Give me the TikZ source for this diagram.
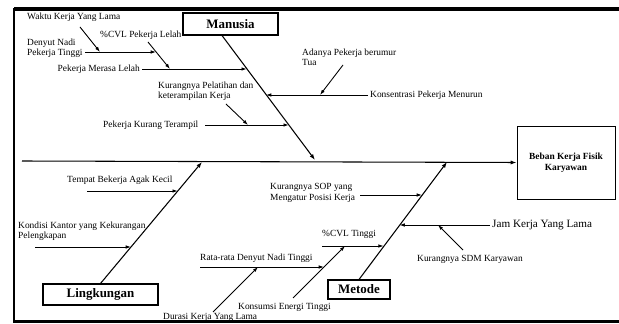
\documentclass[tikz,border=0pt]{standalone}
\usepackage{fontspec}
\setmainfont{Liberation Serif}
\usetikzlibrary{arrows.meta}
\begin{document}
\begin{tikzpicture}
	[x=0.85pt,y=-0.85pt,
	 arr/.style={-{Latex[length=4.5pt,width=3pt]},line width=0.75pt},
	 spine/.style={-{Latex[length=5pt,width=3.5pt]},line width=0.9pt},
	 cause/.style={draw,line width=0.9pt,inner sep=0pt,font=\fontsize{11}{12}\selectfont\bfseries},
	 lbl/.style={inner sep=0pt,align=left,font=\fontsize{8}{8.7}\selectfont}]
	\useasboundingbox (0,0) rectangle (619,324);
	\draw[line width=2.6pt] (14,9) -- (619,9);
	\draw[line width=2pt] (14,8) -- (14,321.5) -- (619,321.5);

	\node[cause,minimum width=95*0.85pt,minimum height=22*0.85pt] (manusia) at (230.5,24) {Manusia};
	\node[cause,minimum width=115*0.85pt,minimum height=21*0.85pt] (lingkungan) at (100.5,294.5) {Lingkungan};
	\node[cause,minimum width=62*0.85pt,minimum height=19*0.85pt] (metode) at (359,289.5) {Metode};
	\node[draw,line width=0.8pt,align=center,minimum width=98*0.85pt,minimum height=73*0.85pt,
		font=\fontsize{8}{9.5}\selectfont\bfseries] (effect) at (566,162.5) {Beban Kerja Fisik\\Karyawan};

	\coordinate (tail) at (22,161);
	\draw[spine] (tail) -- (effect.west);

	% Manusia
	\coordinate (mtop) at (222,35.5);
	\coordinate (mhead) at (315,160);
	\draw[spine] (mtop) -- (mhead);
	\node[lbl,anchor=west] (waktu) at (27,17) {Waktu Kerja Yang Lama};
	\node[lbl,anchor=west] (cvlm) at (100,35) {\%CVL Pekerja Lelah};
	\node[lbl,anchor=west] (denyut) at (27,48) {Denyut Nadi\\Pekerja Tinggi};
	\node[lbl,anchor=east] (lelah) at (140,69) {Pekerja Merasa Lelah};
	\node[lbl,anchor=west] (latih) at (158,91) {Kurangnya Pelatihan dan\\keterampilan Kerja};
	\node[lbl,anchor=west] (terampil) at (103,125) {Pekerja Kurang Terampil};
	\node[lbl,anchor=west] (umur) at (302,57) {Adanya Pekerja berumur\\Tua};
	\node[lbl,anchor=west] (konsen) at (370,95) {Konsentrasi Pekerja Menurun};

	\coordinate (a1) at (142,69);  \coordinate (b1) at (246.8,69);
	\coordinate (a2) at (148,42);  \coordinate (b2) at (170,69);
	\coordinate (a3) at (85,52);   \coordinate (b3) at (156,52);
	\coordinate (a4) at (80,27);   \coordinate (b4) at (100,52);
	\coordinate (a5) at (226,104); \coordinate (b5) at (248,125);
	\coordinate (a6) at (205,125); \coordinate (b6) at (288.8,125);
	\coordinate (a7) at (368,95);  \coordinate (b7) at (266,95);
	\coordinate (a8) at (343,65);  \coordinate (b8) at (320,95);
	\draw[arr] (a1) -- (b1);
	\draw[arr] (a2) -- (b2);
	\draw[arr] (a3) -- (b3);
	\draw[arr] (a4) -- (b4);
	\draw[arr] (a5) -- (b5);
	\draw[arr] (a6) -- (b6);
	\draw[arr] (a7) -- (b7);
	\draw[arr] (a8) -- (b8);

	% Lingkungan
	\coordinate (lhead) at (202,162);
	\draw[spine] (lingkungan.north) -- (lhead);
	\node[lbl,anchor=west] (tempat) at (67,180) {Tempat Bekerja Agak Kecil};
	\node[lbl,anchor=west] (kondisi) at (18,231) {Kondisi Kantor yang Kekurangan\\Pelengkapan};
	\coordinate (c1) at (87,191);  \coordinate (d1) at (177.8,191);
	\coordinate (c2) at (35,247);  \coordinate (d2) at (131,247);
	\draw[arr] (c1) -- (d1);
	\draw[arr] (c2) -- (d2);

	% Metode
	\coordinate (thead) at (447,162);
	\draw[spine] (metode.north) -- (thead);
	\node[lbl,anchor=west] (sop) at (270,193) {Kurangnya SOP yang\\Mengatur Posisi Kerja};
	\node[lbl,anchor=west,font=\fontsize{9.5}{11}\selectfont] (jam) at (492,225) {Jam Kerja Yang Lama};
	\node[lbl,anchor=west] (sdm) at (417,259) {Kurangnya SDM Karyawan};
	\node[lbl,anchor=west] (cvlt) at (322,234) {\%CVL Tinggi};
	\node[lbl,anchor=west] (rata) at (200,258) {Rata-rata Denyut Nadi Tinggi};
	\node[lbl,anchor=west] (energi) at (238,307) {Konsumsi Energi Tinggi};
	\node[lbl,anchor=west] (durasi) at (163,317) {Durasi Kerja Yang Lama};
	\coordinate (e1) at (360,195); \coordinate (f1) at (422,195);
	\coordinate (e2) at (490,225); \coordinate (f2) at (399.5,225);
	\coordinate (e3) at (463,250); \coordinate (f3) at (438,225);
	\coordinate (e4) at (322,246); \coordinate (f4) at (383.7,246);
	\coordinate (e5) at (293,298); \coordinate (f5) at (345,246);
	\coordinate (e6) at (200,267); \coordinate (f6) at (324,267);
	\coordinate (e7) at (213,312); \coordinate (f7) at (258,267);
	\draw[arr] (e1) -- (f1);
	\draw[arr] (e2) -- (f2);
	\draw[arr] (e3) -- (f3);
	\draw[arr] (e4) -- (f4);
	\draw[arr] (e5) -- (f5);
	\draw[arr] (e6) -- (f6);
	\draw[arr] (e7) -- (f7);
\end{tikzpicture}
\end{document}
